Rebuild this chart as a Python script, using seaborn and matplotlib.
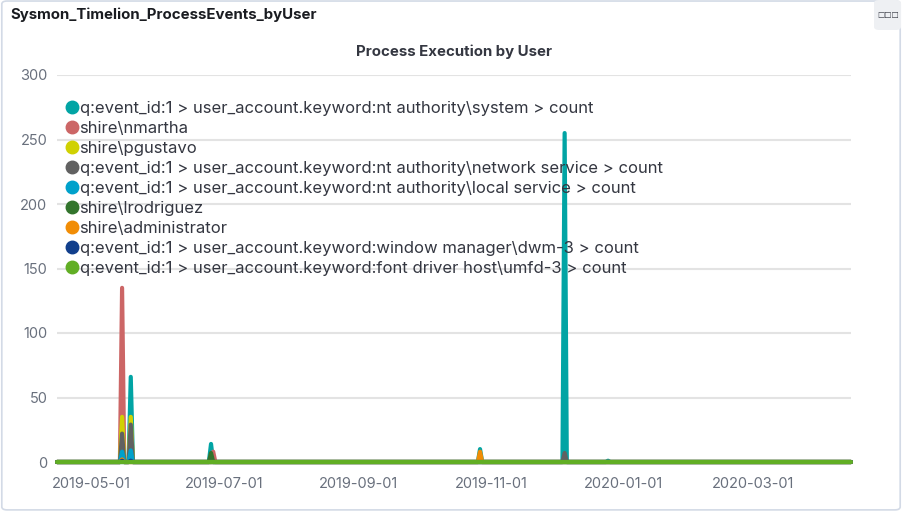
#!/usr/bin/env python3
# -*- coding: utf-8 -*-

import matplotlib as mpl
import matplotlib.pyplot as plt
import matplotlib.dates as mdates
from matplotlib.lines import Line2D
from matplotlib.patches import FancyBboxPatch
import seaborn as sns
import pandas as pd
import numpy as np

mpl.use("Agg")

sns.set_style("white")
plt.rcParams["font.family"] = ["Inter", "DejaVu Sans"]

# series names (legend order == draw order)
series_names = [
    "q:event_id:1 > user_account.keyword:nt authority\\system > count",
    "shire\\nmartha",
    "shire\\pgustavo",
    "q:event_id:1 > user_account.keyword:nt authority\\network service > count",
    "q:event_id:1 > user_account.keyword:nt authority\\local service > count",
    "shire\\lrodriguez",
    "shire\\administrator",
    "q:event_id:1 > user_account.keyword:window manager\\dwm-3 > count",
    "q:event_id:1 > user_account.keyword:font driver host\\umfd-3 > count",
]
series_colors = ["#01A4A4", "#CC6666", "#D0D102", "#616161", "#00A1CB",
                 "#32742C", "#F18D05", "#113F8C", "#61AE24"]

# days with non-zero counts; every other day in the range is 0
event_dates = ["2019-05-15", "2019-05-19", "2019-06-25", "2019-06-26",
               "2019-10-27", "2019-12-05", "2019-12-25"]
system_counts = [0, 66, 14, 0, 10, 255, 1]
nmartha_counts = [135, 0, 0, 8, 0, 0, 0]
pgustavo_counts = [35, 35, 0, 0, 0, 0, 0]
network_service_counts = [22, 29, 0, 0, 0, 7, 0]
local_service_counts = [8, 9, 0, 0, 0, 0, 0]
lrodriguez_counts = [0, 0, 7, 0, 0, 0, 0]
administrator_counts = [2, 0, 0, 0, 8, 0, 0]
dwm_counts = [1, 1, 0, 0, 0, 0, 0]
umfd_counts = [0, 0, 0, 0, 0, 0, 0]

start_date = "2019-04-15"
end_date = "2020-04-15"
x_ticks = ["2019-05-01", "2019-07-01", "2019-09-01", "2019-11-01",
           "2020-01-01", "2020-03-01"]
y_ticks = [0, 50, 100, 150, 200, 250, 300]

all_counts = [system_counts, nmartha_counts, pgustavo_counts,
              network_service_counts, local_service_counts, lrodriguez_counts,
              administrator_counts, dwm_counts, umfd_counts]

days = pd.date_range(start_date, end_date, freq="D")
rows = []
for name, counts in zip(series_names, all_counts):
    s = pd.Series(0.0, index=days)
    s[pd.to_datetime(event_dates)] = counts
    for d, v in s.items():
        rows.append({"date": d, "count": v, "series": name})
df = pd.DataFrame(rows)

fig = plt.figure(figsize=(9.02, 5.14), dpi=100)
ax = fig.add_axes([57 / 902, 52 / 514, 794 / 902, 387 / 514])

# panel frame + header
frame = FancyBboxPatch((0.002, 0.008), 0.996, 0.99, boxstyle="round,pad=0,rounding_size=0.006",
                       transform=fig.transFigure, facecolor="none", edgecolor="#D3DAE6",
                       linewidth=1.2, zorder=-10)
fig.patches.append(frame)
menu = FancyBboxPatch((874 / 902, 484 / 514), 27 / 902, 30 / 514,
                      boxstyle="round,pad=0,rounding_size=0.006",
                      transform=fig.transFigure, facecolor="#EEF0F3", edgecolor="none")
fig.patches.append(menu)
fig.text(888 / 902, 1 - 14 / 514, "□□□", fontsize=5.5, ha="center", va="center",
         color="#343741", family=["DejaVu Sans"])
fig.text(10 / 902, 1 - 15 / 514, "Sysmon_Timelion_ProcessEvents_byUser",
         fontsize=10.8, fontweight="bold", color="#1a1c21", ha="left", va="center")

sns.lineplot(data=df, x="date", y="count", hue="series", hue_order=series_names,
             palette=series_colors, linewidth=3, legend=False, ax=ax, clip_on=False)
for name, color in zip(series_names, series_colors):
    sub = df[df["series"] == name]
    ax.fill_between(sub["date"], 0, sub["count"], color=color, alpha=0.6, linewidth=0)

ax.set_xlim(pd.Timestamp(start_date), pd.Timestamp(end_date))
ax.set_ylim(0, 300)
ax.set_yticks(y_ticks)
ax.set_xticks(pd.to_datetime(x_ticks))
ax.xaxis.set_major_formatter(mdates.DateFormatter("%Y-%m-%d"))
ax.grid(axis="y", color="#E3E3E3", linewidth=1.5)
ax.set_axisbelow(True)
for sp in ax.spines.values():
    sp.set_visible(False)
ax.tick_params(axis="x", length=6, width=1, color="#DDDDDD", pad=5,
               labelsize=10.5, labelcolor="#69707D")
ax.tick_params(axis="y", length=0, pad=7, labelsize=10.5, labelcolor="#69707D")
ax.set_xlabel("")
ax.set_ylabel("")
ax.set_title("Process Execution by User", fontsize=10.8, fontweight="bold",
             color="#343741", pad=14)

handles = [Line2D([], [], marker="o", linestyle="", markersize=9,
                  markerfacecolor=c, markeredgecolor=c) for c in series_colors]
leg = ax.legend(handles, series_names, loc="upper left",
                bbox_to_anchor=(5 / 794, (462 - 96) / 387), borderaxespad=0.3,
                frameon=False, fontsize=12, handlelength=0.6, handletextpad=0.15,
                labelspacing=0.3, borderpad=0)
for t in leg.get_texts():
    t.set_color("#343741")

fig.savefig("out.png", dpi=100)
